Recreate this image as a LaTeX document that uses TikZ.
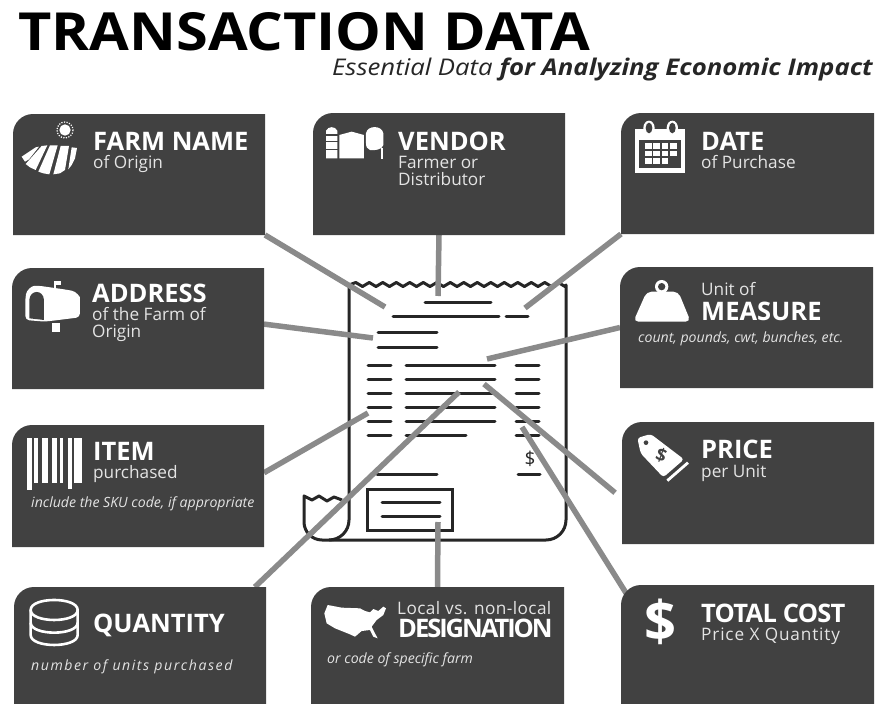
\documentclass[tikz,border=0pt]{standalone}
\usepackage{fontspec}
\setmainfont{Open Sans}
\usetikzlibrary{calc}
\definecolor{card}{HTML}{414141}
\definecolor{inkc}{HTML}{262626}
\definecolor{linkc}{HTML}{8A8A8A}
\definecolor{subc}{HTML}{E4E4E4}
\newcommand{\fs}[1]{\fontsize{#1}{#1}\selectfont}
\tikzset{
  rline/.style={draw=inkc,line width=3pt,line cap=round},
  link/.style={draw=linkc,line width=5.5pt},
  hd/.style={anchor=base west,inner sep=0pt,text=white,font=\fs{25.5}\bfseries},
  sb/.style={anchor=base west,inner sep=0pt,text=subc,font=\fs{17.2}},
  it/.style={anchor=base west,inner sep=0pt,text=subc,font=\fs{14.1}\itshape},
}
\newcommand{\mkcard}[5]{\node[inner sep=0pt,outer sep=0pt,minimum width={(#4-#2)*1pt},minimum height={(#5-#3)*1pt}] (#1) at ({(#2+#4)/2},{(#3+#5)/2}) {};}
\newcommand{\fillcard}[1]{\fill[card] (#1.south west) -- ($(#1.north west)+(0,20)$) arc[start angle=180,end angle=90,radius=20pt] -- (#1.north east) -- (#1.south east) -- cycle;}
\begin{document}
\begin{tikzpicture}[x=1pt,y=-1pt]
\useasboundingbox (0,0) rectangle (876,704);
\fill[white] (0,0) rectangle (876,704);
% invisible card frames
\mkcard{farm}{13}{114}{265}{235}
\mkcard{vendor}{313}{113}{565}{235}
\mkcard{date}{621}{113}{874}{234}
\mkcard{addr}{12}{268}{264}{389}
\mkcard{meas}{620}{267}{873}{388}
\mkcard{item}{12}{425}{264}{547}
\mkcard{price}{622}{422}{874}{544}
\mkcard{qty}{14}{587}{266}{704}
\mkcard{desig}{311}{587}{564}{704}
\mkcard{total}{621}{585}{874}{704}
% receipt
\draw[inkc,line width=3pt,line join=round]
  (349,520) -- (349,285)
  \foreach \i in {0,...,15} { -- ({349+\i*13.5+6.75},{282.5}) -- ({349+\i*13.5+13.5},{286.5}) }
  -- (566,285) -- (566,520) arc[start angle=0,end angle=-90,radius=20pt] -- (322,540)
  arc[start angle=-90,end angle=-180,radius=18pt] -- (304,496) -- (312,500) -- (319,496) -- (327,501) -- (334,497) -- (342,500);
\draw[inkc,line width=3pt] (349,520) arc[start angle=0,end angle=-90,radius=20pt];
\foreach \a/\b/\y in {425/491/302,393/499/316.7,506/528/316.7,378/437/332.7,378/437/347,
  368/391/365.7,406/495/365.7,516/539/365.7,
  368/391/379.3,406/495/379.3,516/539/379.3,
  368/391/393.3,406/495/393.3,516/539/393.3,
  368/391/407.3,406/495/407.3,516/539/407.3,
  368/391/421.3,406/495/421.3,516/539/421.3,
  368/391/435,406/466/435,516/539/435,
  377/437/474,518/540/474,382/440/502.3,382/440/516.3}
  {\draw[rline] (\a,\y) -- (\b,\y);}
\draw[inkc,line width=3pt,line join=miter] (367,489) rectangle (452,530);
\node[inner sep=0pt,text=inkc,font=\fs{19}] (dollar) at (530,459) {\$};
% connector ends
\coordinate (efarm) at (385,307);
\coordinate (evendor) at (438,296);
\coordinate (edate) at (525,308);
\coordinate (eaddr) at (373,338);
\coordinate (emeas) at (487,359);
\coordinate (eitem) at (368,413);
\coordinate (eprice) at (484,384);
\coordinate (eqty) at (459,392);
\coordinate (edesig) at (438,522);
\coordinate (etotal) at (522,427);
\draw[link] (farm.south east) -- (efarm);
\draw[link] (vendor.south) -- (evendor);
\draw[link] (date.south west) -- (edate);
\draw[link] (addr.2) -- (eaddr);
\draw[link] (meas.west) -- (emeas);
\draw[link] (item.6) -- (eitem);
\draw[link,shorten <=9pt] (price.187) -- (eprice);
\draw[link] (qty.27) -- (eqty);
\draw[link] (desig.north) -- (edesig);
\draw[link,shorten <=-12pt] (total.north west) -- (etotal);
% cards
\foreach \c in {farm,vendor,date,addr,meas,item,price,qty,desig,total} {\fillcard{\c}}
% title
\node[anchor=base west,inner sep=0pt,text=black,font=\fs{52.5}\bfseries] (title) at (18,50) {\scalebox{1.098}[1]{TRANSACTION DATA}};
\node[anchor=base east,inner sep=0pt,text=inkc,font=\fs{23}\itshape] (subt) at (873,75.5) {\scalebox{1.12}[1]{Essential Data \bfseries for Analyzing Economic Impact}};
% texts
\node[hd] (t1) at (93,150) {FARM NAME};
\node[sb] (t1b) at (93,168) {of Origin};
\node[hd] (t2) at (398,150) {VENDOR};
\node[sb] (t2b) at (398,168) {Farmer or};
\node[sb] (t2c) at (398,185) {Distributor};
\node[hd] (t3) at (701,150) {DATE};
\node[sb] (t3b) at (701,168) {of Purchase};
\node[hd] (t4) at (92,302) {ADDRESS};
\node[sb] (t4b) at (92,320) {of the Farm of};
\node[sb] (t4c) at (92,337) {Origin};
\node[sb] (t5) at (701,295) {Unit of};
\node[hd] (t5b) at (701,320) {MEASURE};
\node[it] (t5c) at (638,342) {count, pounds, cwt, bunches, etc.};
\node[hd] (t6) at (93,460) {ITEM};
\node[sb] (t6b) at (93,478) {purchased};
\node[it] (t6c) at (31,507) {include the SKU code, if appropriate};
\node[hd] (t7) at (701,458) {PRICE};
\node[sb] (t7b) at (701,477) {per Unit};
\node[hd] (t8) at (93,632) {QUANTITY};
\node[it] (t8b) at (31,670) {\addfontfeature{LetterSpace=11}number of units purchased};
\node[sb] (t9) at (397,614) {\addfontfeature{LetterSpace=2.5}Local vs. non-local};
\node[hd] (t9b) at (398,637) {\addfontfeature{LetterSpace=-8}DESIGNATION};
\node[it] (t9c) at (327,663) {or code of specific farm};
\node[hd] (t10) at (701,622) {\addfontfeature{LetterSpace=-3}TOTAL COST};
\node[sb] (t10b) at (701,640) {\addfontfeature{LetterSpace=5}Price X Quantity};
\node[text=white,inner sep=0pt,font=\fs{56}\bfseries] (bigd) at (660,622) {\$};
% sun and field
\begin{scope}[shift={(15,120)},x=0.3333pt,y=-0.3333pt]
\fill[white] (150,30) circle (17);
\draw[white,line width=1.2pt,dash pattern=on 1.2pt off 1.4pt] (150,30) circle (24);
\fill[white] (20,110) -- (62,82) -- (72,80) -- (42,118) -- (30,125) -- cycle;
\fill[white] (32,132) -- (80,78) -- (97,76) -- (62,150) -- (45,142) -- cycle;
\fill[white] (70,155) -- (105,76) -- (128,76) -- (103,163) -- (85,160) -- cycle;
\fill[white] (115,163) -- (137,78) -- (162,78) -- (150,150) -- (135,160) -- cycle;
\fill[white] (160,148) -- (170,82) -- (186,84) -- (180,115) -- (170,135) -- cycle;
\end{scope}
% mailbox
\begin{scope}[shift={(0,100)},x=0.3333pt,y=-0.3333pt]
\fill[white,rounded corners=4pt] (76,660) -- (76,595) .. controls (80,570) and (95,558) .. (115,557) -- (205,570) .. controls (228,575) and (240,590) .. (240,605) -- (240,652) -- (135,665) -- cycle;
\fill[card] (88,655) -- (88,600) .. controls (90,568) and (130,568) .. (132,600) -- (132,660) -- cycle;
\fill[white] (155,668) rectangle (180,697);
\fill[white] (162,542) rectangle (184,556);
\fill[white] (162,542) rectangle (169,568);
\end{scope}
% silo, barn, tower
\begin{scope}[shift={(310,100)},x=0.3333pt,y=-0.3333pt]
\fill[white] (48,92) .. controls (55,78) and (75,78) .. (82,92) -- (82,175) -- (48,175) -- cycle;
\fill[card] (46,103) rectangle (84,108);
\fill[card] (46,122) rectangle (84,127);
\fill[card] (46,146) rectangle (84,151);
\fill[white] (88,105) -- (125,95) -- (162,105) -- (162,175) -- (88,175) -- cycle;
\fill[white] (168,100) .. controls (172,75) and (216,75) .. (220,100) -- (220,135) .. controls (218,150) and (190,152) .. (180,150) .. controls (172,148) and (168,140) .. (168,130) -- cycle;
\fill[white] (214,145) rectangle (219,177);
\end{scope}
\begin{scope}[shift={(600,100)},x=0.3333pt,y=-0.3333pt]
% calendar
\fill[white] (105,88) rectangle (255,220);
\fill[card] (118,120) rectangle (243,205);
\foreach \i in {0,1,2,3}{\foreach \j in {0,1,2}{\ifnum\i=3 \ifnum\j=2 \else \fill[white] ({135+\i*25},{130+\j*22}) rectangle ({155+\i*25},{147+\j*22}); \fi \else \fill[white] ({135+\i*25},{130+\j*22}) rectangle ({155+\i*25},{147+\j*22}); \fi}}
\foreach \x in {147,217}{\fill[white] (\x,84) ellipse[x radius=17,y radius=22]; \fill[card] (\x,84) ellipse[x radius=10,y radius=16];}
% weight
\fill[white,rounded corners=5pt] (100,665) -- (140,575) -- (235,575) -- (272,665) -- cycle;
\fill[white] (185,560) circle (20);
\fill[card] (185,560) circle (11);
\end{scope}
% barcode
\begin{scope}[shift={(20,430)},x=0.3333pt,y=-0.3333pt]
\foreach \a/\b/\e in {22/35/180,42/55/158,65/85/158,95/110/158,120/130/158,145/155/178,163/185/158}
  {\fill[white] (\a,25) rectangle (\b,\e);}
\end{scope}
% database
\begin{scope}[shift={(0,410)},x=0.3333pt,y=-0.3333pt]
\draw[white,line width=2.6pt] (92,600) .. controls (92,560) and (233,560) .. (233,600) -- (233,675) .. controls (233,715) and (92,715) .. (92,675) -- cycle;
\draw[white,line width=2.6pt] (92,600) .. controls (92,640) and (233,640) .. (233,600);
\draw[white,line width=2.6pt] (92,638) .. controls (92,678) and (233,678) .. (233,638);
\end{scope}
% price tag
\begin{scope}[shift={(620,420)},x=0.3333pt,y=-0.3333pt]
\fill[white,rounded corners=3pt] (52,54) -- (92,42) -- (192,118) -- (130,172) -- (62,100) -- cycle;
\draw[white,line width=2.8pt] (204,128) -- (142,182);
\fill[card] (78,68) circle (7);
\node[text=card,inner sep=0pt,font=\fs{18}\bfseries,rotate=-20] (tagd) at (124,106) {\$};
\end{scope}
% usa
\begin{scope}[shift={(315,595)},x=0.3333pt,y=-0.3333pt]
\fill[white] (38,30) -- (80,38) -- (135,40) -- (150,48) -- (165,52) -- (175,42) -- (190,48) -- (205,35) -- (213,40) -- (205,60) -- (185,75) -- (170,95) -- (180,115) -- (188,130) -- (175,125) -- (165,105) -- (140,108) -- (120,125) -- (105,118) -- (90,112) -- (60,100) -- (35,85) -- (28,55) -- cycle;
\end{scope}
\end{tikzpicture}
\end{document}
